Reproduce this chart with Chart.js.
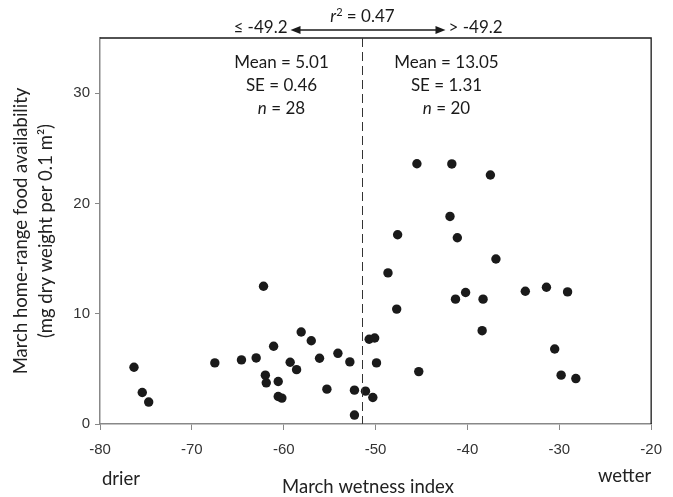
<!DOCTYPE html>
<html>
<head>
<meta charset="utf-8">
<script src="https://cdn.jsdelivr.net/npm/chart.js@4"></script>
<style>
  html, body { margin: 0; padding: 0; background: #fff; }
  #wrap { width: 673px; height: 497px; }
</style>
</head>
<body>
<div id="wrap"><canvas id="wetChart" width="673" height="497"></canvas></div>
<script>
// march wetness index (x) and food availability (y)
const wetness = [
  -76.3, -75.4, -74.7, -67.5, -64.6, -63.0, -62.2, -62.0, -61.9, -61.1,
  -60.6, -60.6, -60.2, -59.3, -58.6, -58.1, -57.0, -56.1, -55.3, -54.1,
  -52.8, -52.3, -52.3, -51.1, -50.7, -50.1, -49.9, -50.3,
  -48.65, -47.6, -47.7, -45.5, -45.3, -41.7, -41.9, -41.1, -40.2, -41.3,
  -38.3, -38.4, -37.5, -36.9, -33.7, -31.4, -29.1, -30.5, -29.8, -28.2
];
const food = [
  5.15, 2.86, 1.99, 5.54, 5.81, 5.99, 12.49, 4.43, 3.73, 7.05,
  3.85, 2.49, 2.35, 5.60, 4.93, 8.34, 7.55, 5.96, 3.16, 6.41,
  5.63, 3.07, 0.81, 2.98, 7.68, 7.80, 5.54, 2.40,
  13.70, 17.16, 10.42, 23.60, 4.75, 23.58, 18.82, 16.89, 11.92, 11.32,
  11.32, 8.46, 22.58, 14.96, 12.04, 12.40, 11.98, 6.80, 4.43, 4.12
];
const xTicks = [-80, -70, -60, -50, -40, -30, -20];
const yTicks = [0, 10, 20, 30];
const splitAt = -51.5;
const leftStats = ['Mean = 5.01', 'SE = 0.46', ['n', ' = 28']];
const rightStats = ['Mean = 13.05', 'SE = 1.31', ['n', ' = 20']];

const points = wetness.map((w, i) => ({ x: w, y: food[i] }));
const labelFont = 'Lato, "Open Sans", sans-serif';

const extras = {
  id: 'extras',
  afterDraw(chart) {
    const ctx = chart.ctx;
    const area = chart.chartArea;
    const xs = chart.scales.x;
    ctx.save();

    // top + right frame
    ctx.strokeStyle = '#1a1a1a';
    ctx.lineWidth = 1.3;
    ctx.beginPath();
    ctx.moveTo(area.left, area.top);
    ctx.lineTo(area.right, area.top);
    ctx.lineTo(area.right, area.bottom);
    ctx.stroke();

    // dashed split line
    const sx = Math.round(xs.getPixelForValue(splitAt)) + 0.5;
    ctx.strokeStyle = '#333';
    ctx.lineWidth = 1;
    ctx.setLineDash([9, 5]);
    ctx.beginPath();
    ctx.moveTo(sx, area.top);
    ctx.lineTo(sx, area.bottom);
    ctx.stroke();
    ctx.setLineDash([]);

    ctx.fillStyle = '#1a1a1a';
    ctx.textBaseline = 'middle';
    const fs = 17;

    const drawStats = (lines, cx) => {
      lines.forEach((ln, i) => {
        const y = area.top + 25 + i * 23;
        if (Array.isArray(ln)) {
          ctx.font = 'italic ' + fs + 'px ' + labelFont;
          const w1 = ctx.measureText(ln[0]).width;
          ctx.font = fs + 'px ' + labelFont;
          const w2 = ctx.measureText(ln[1]).width;
          const x0 = cx - (w1 + w2) / 2;
          ctx.textAlign = 'left';
          ctx.font = 'italic ' + fs + 'px ' + labelFont;
          ctx.fillText(ln[0], x0, y);
          ctx.font = fs + 'px ' + labelFont;
          ctx.fillText(ln[1], x0 + w1, y);
        } else {
          ctx.font = fs + 'px ' + labelFont;
          ctx.textAlign = 'center';
          ctx.fillText(ln, cx, y);
        }
      });
    };
    drawStats(leftStats, sx - 81);
    drawStats(rightStats, sx + 84);

    // arrow and threshold labels above the plot
    const ay = area.top - 8;
    const ax0 = sx - 72, ax1 = sx + 83;
    ctx.strokeStyle = '#1a1a1a';
    ctx.lineWidth = 1.5;
    ctx.beginPath();
    ctx.moveTo(ax0 + 6, ay);
    ctx.lineTo(ax1 - 6, ay);
    ctx.stroke();
    ctx.beginPath();
    ctx.moveTo(ax0, ay); ctx.lineTo(ax0 + 10, ay - 4); ctx.lineTo(ax0 + 10, ay + 4); ctx.closePath();
    ctx.moveTo(ax1, ay); ctx.lineTo(ax1 - 10, ay - 4); ctx.lineTo(ax1 - 10, ay + 4); ctx.closePath();
    ctx.fill();

    ctx.font = fs + 'px ' + labelFont;
    ctx.textAlign = 'right';
    ctx.fillText('\u2264 -49.2', ax0 - 3, ay - 2);
    ctx.textAlign = 'left';
    ctx.fillText('> -49.2', ax1 + 3, ay - 2);

    // r squared
    ctx.font = 'italic ' + fs + 'px ' + labelFont;
    const rW = ctx.measureText('r').width;
    ctx.font = '11px ' + labelFont;
    const supW = ctx.measureText('2').width;
    ctx.font = fs + 'px ' + labelFont;
    const restW = ctx.measureText(' = 0.47').width;
    let rx = sx - (rW + supW + restW) / 2;
    const ry = area.top - 21;
    ctx.textAlign = 'left';
    ctx.font = 'italic ' + fs + 'px ' + labelFont;
    ctx.fillText('r', rx, ry);
    rx += rW;
    ctx.font = '11px ' + labelFont;
    ctx.fillText('2', rx, ry - 5);
    rx += supW;
    ctx.font = fs + 'px ' + labelFont;
    ctx.fillText(' = 0.47', rx, ry);

    // bottom labels
    ctx.font = '18.5px ' + labelFont;
    ctx.fillStyle = '#222';
    ctx.textAlign = 'left';
    ctx.fillText('drier', xs.getPixelForValue(-80) + 2, area.bottom + 55);
    ctx.textAlign = 'right';
    ctx.fillText('wetter', xs.getPixelForValue(-20), area.bottom + 52);
    ctx.textAlign = 'center';
    ctx.fillText('March wetness index', 368, area.bottom + 63);

    ctx.restore();
  }
};

new Chart(document.getElementById('wetChart'), {
  type: 'scatter',
  data: {
    datasets: [{
      data: points,
      pointRadius: 4.7,
      pointHoverRadius: 4.7,
      pointBackgroundColor: '#1a1a1a',
      pointBorderColor: '#1a1a1a',
      pointBorderWidth: 0
    }]
  },
  options: {
    responsive: false,
    animation: false,
    devicePixelRatio: 1,
    layout: { padding: { left: 0, right: 21, top: 38, bottom: 0 } },
    plugins: { legend: { display: false }, tooltip: { enabled: false } },
    scales: {
      x: {
        type: 'linear',
        min: -80,
        max: -20,
        afterBuildTicks: (s) => { s.ticks = xTicks.map(v => ({ value: v })); },
        afterFit: (s) => { s.height = 73; },
        grid: { drawOnChartArea: false, drawTicks: true, tickLength: 6, color: '#888', tickColor: '#888' },
        border: { color: '#888', width: 1.5 },
        ticks: {
          color: '#333',
          padding: 11,
          font: { family: '"Liberation Sans", Arial, sans-serif', size: 15 }
        }
      },
      y: {
        type: 'linear',
        min: 0,
        max: 35,
        afterBuildTicks: (s) => { s.ticks = yTicks.map(v => ({ value: v })); },
        afterFit: (s) => { s.width = 100; },
        grid: { drawOnChartArea: false, drawTicks: true, tickLength: 5, color: '#888', tickColor: '#888' },
        border: { color: '#888', width: 1.5 },
        ticks: {
          color: '#333',
          padding: 5,
          font: { family: '"Liberation Sans", Arial, sans-serif', size: 15 }
        },
        title: {
          display: true,
          text: ['March home-range food availability', '(mg dry weight per 0.1 m\u00b2)'],
          color: '#222',
          font: { family: labelFont, size: 18.5, lineHeight: 1.32 },
          padding: { top: 9, bottom: 0 }
        }
      }
    }
  },
  plugins: [extras]
});
</script>
</body>
</html>
